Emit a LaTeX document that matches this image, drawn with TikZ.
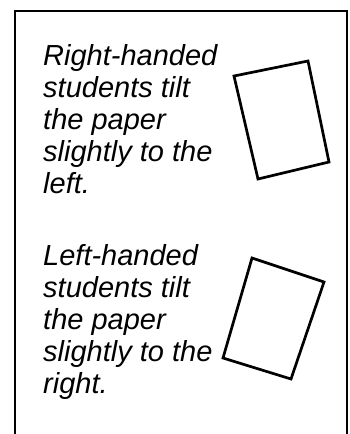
\documentclass[tikz,border=0pt]{standalone}
\usepackage{fontspec}
\setmainfont{Liberation Sans}
\begin{document}
\begin{tikzpicture}[x=1pt,y=-1pt,
  frame/.style={line width=2.3pt},
  paper/.style={line width=2.7pt,line join=miter},
  caption/.style={anchor=base west,inner sep=0pt,align=left,
    font=\fontsize{29}{32}\selectfont\itshape}]
\useasboundingbox (0,0) rectangle (349,434);
\coordinate (fbl) at (15,436);
\coordinate (ftl) at (15,11);
\coordinate (ftr) at (347,11);
\coordinate (fbr) at (347,436);
\draw[frame] (fbl) -- (ftl) -- (ftr) -- (fbr);
\node[caption] (right) at (43,193) {Right-handed\\students tilt\\the paper\\slightly to the\\left.};
\node[caption] (left) at (43,393) {Left-handed\\students tilt\\the paper\\slightly to the\\right.};
\coordinate (a1) at (234,76);
\coordinate (a2) at (308,61);
\coordinate (a3) at (329,162);
\coordinate (a4) at (258,179);
\draw[paper] (a1) -- (a2) -- (a3) -- (a4) -- cycle;
\coordinate (b1) at (252,258);
\coordinate (b2) at (324,282);
\coordinate (b3) at (291,379);
\coordinate (b4) at (223,358);
\draw[paper] (b1) -- (b2) -- (b3) -- (b4) -- cycle;
\end{tikzpicture}
\end{document}
